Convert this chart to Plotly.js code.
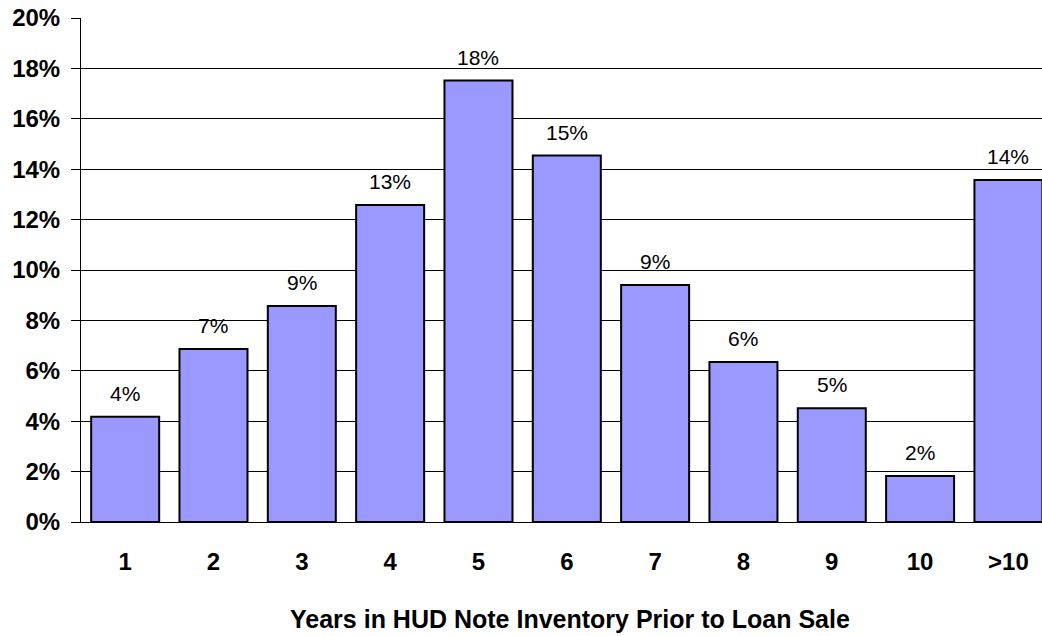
<!DOCTYPE html>
<html>
<head>
<meta charset="utf-8">
<script src="https://cdn.plot.ly/plotly-3.0.1.min.js"></script>
<style>html,body{margin:0;padding:0;background:#fff;}#chart{width:1042px;height:636px;}</style>
</head>
<body>
<div id="chart"></div>
<script>
const categories = ["1", "2", "3", "4", "5", "6", "7", "8", "9", "10", ">10"];
const shares = [4.18, 6.87, 8.57, 12.58, 17.52, 14.54, 9.40, 6.35, 4.51, 1.83, 13.57];
const yTickValues = [0, 2, 4, 6, 8, 10, 12, 14, 16, 18, 20];
const xTitle = "Years in HUD Note Inventory Prior to Loan Sale";

const FONT = '"Liberation Sans", Arial, sans-serif';

const trace = {
  type: 'bar',
  x: categories,
  y: shares,
  marker: {color: '#9999FF', line: {color: '#000000', width: 2}},
  hoverinfo: 'skip'
};

// category axis: annotation x given as the category's index
const labelAnnotations = categories.map((c, i) => ({
  x: i, y: shares[i], xref: 'x', yref: 'y',
  text: Math.round(shares[i]) + '%',
  showarrow: false, xanchor: 'center', yanchor: 'bottom', yshift: 10,
  font: {family: FONT, size: 21, color: '#000'}
}));

const layout = {
  width: 1042, height: 636,
  margin: {l: 81, r: 0, t: 18, b: 114, pad: 0},
  paper_bgcolor: '#fff', plot_bgcolor: '#fff',
  showlegend: false,
  bargap: 0.23,
  font: {family: FONT, color: '#000'},
  xaxis: {
    type: 'category',
    categoryorder: 'array', categoryarray: categories,
    range: [-0.5, 10.38],
    showline: true, linecolor: '#000', linewidth: 1,
    showgrid: false,
    ticks: '', ticklabelstandoff: 18,
    tickfont: {family: FONT, size: 24, color: '#000', weight: 'bold'},
    fixedrange: true
  },
  yaxis: {
    range: [0, 20],
    tickvals: yTickValues,
    ticktext: yTickValues.map(v => v + '%'),
    showline: true, linecolor: '#000', linewidth: 1,
    showgrid: true, gridcolor: '#000', gridwidth: 1,
    zeroline: false,
    ticks: 'outside', ticklen: 9, tickcolor: '#000', tickwidth: 1,
    ticklabelstandoff: 6,
    tickfont: {family: FONT, size: 24, color: '#000', weight: 'bold'},
    fixedrange: true
  },
  annotations: labelAnnotations.concat([{
    text: xTitle,
    xref: 'paper', yref: 'paper',
    x: 0.509, y: 0, yshift: -97,
    xanchor: 'center', yanchor: 'middle',
    showarrow: false,
    font: {family: FONT, size: 25, color: '#000', weight: 'bold'}
  }])
};

Plotly.newPlot('chart', [trace], layout, {displayModeBar: false, staticPlot: true});
</script>
</body>
</html>
